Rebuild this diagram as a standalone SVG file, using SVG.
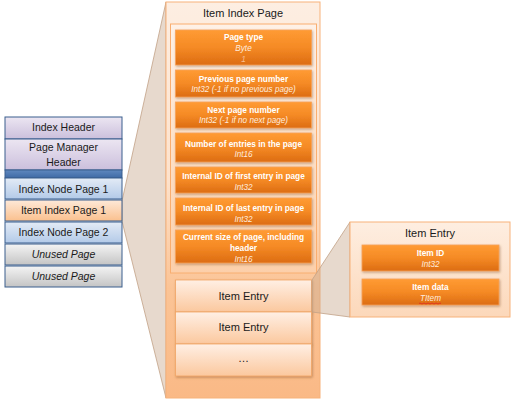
<svg xmlns="http://www.w3.org/2000/svg" width="514" height="405" viewBox="0 0 514 405">
<defs>
<linearGradient id="gPanel" x1="0" y1="0" x2="0" y2="1">
<stop offset="0" stop-color="#FDEEE2"/><stop offset="0.45" stop-color="#FDE2CC"/><stop offset="0.72" stop-color="#FBC496"/><stop offset="1" stop-color="#FAB986"/>
</linearGradient>
<linearGradient id="gSmall" x1="0" y1="0" x2="0" y2="1">
<stop offset="0" stop-color="#FEEEE1"/><stop offset="1" stop-color="#FCD8BA"/>
</linearGradient>
<linearGradient id="gInner" x1="0" y1="0" x2="0" y2="1">
<stop offset="0" stop-color="#FEF1E7"/><stop offset="1" stop-color="#FCCFAA"/>
</linearGradient>
<linearGradient id="gField" x1="0" y1="0" x2="0" y2="1">
<stop offset="0" stop-color="#FF9B33"/><stop offset="0.5" stop-color="#F58A25"/><stop offset="1" stop-color="#DC6C12"/>
</linearGradient>
<linearGradient id="gEntry" x1="0" y1="0" x2="0" y2="1">
<stop offset="0" stop-color="#FFEFE4"/><stop offset="1" stop-color="#FBC89E"/>
</linearGradient>
<linearGradient id="gPurple" x1="0" y1="0" x2="0" y2="1">
<stop offset="0" stop-color="#ECE6F2"/><stop offset="1" stop-color="#CBBFDC"/>
</linearGradient>
<linearGradient id="gBlue" x1="0" y1="0" x2="0" y2="1">
<stop offset="0" stop-color="#E3EBF6"/><stop offset="1" stop-color="#B3CAE8"/>
</linearGradient>
<linearGradient id="gDark" x1="0" y1="0" x2="0" y2="1">
<stop offset="0" stop-color="#5F88BF"/><stop offset="1" stop-color="#3F6AA5"/>
</linearGradient>
<linearGradient id="gPeach" x1="0" y1="0" x2="0" y2="1">
<stop offset="0" stop-color="#FEE9D8"/><stop offset="1" stop-color="#FAC08E"/>
</linearGradient>
<linearGradient id="gGrey" x1="0" y1="0" x2="0" y2="1">
<stop offset="0" stop-color="#F4F4F4"/><stop offset="1" stop-color="#C4C4C4"/>
</linearGradient>
<filter id="sh" x="-10%" y="-20%" width="120%" height="150%">
<feDropShadow dx="0.8" dy="1.2" stdDeviation="0.8" flood-color="#7A4A20" flood-opacity="0.45"/>
</filter>
</defs>
<style>
.stack{stroke:#3A5F8E;stroke-width:1}
.st{font-family:"Liberation Sans",Arial,sans-serif;font-size:10.5px;fill:#1A1A1A;text-anchor:middle}
.it{font-style:italic}
.field{fill:url(#gField);stroke:#F8A25A;stroke-width:0.8;filter:url(#sh)}
.ft{font-family:"Liberation Sans",Arial,sans-serif;font-size:8.3px;font-weight:bold;fill:#FFFFFF;text-anchor:middle}
.fi{font-family:"Liberation Sans",Arial,sans-serif;font-size:8.2px;font-style:italic;fill:#FFEBDD;text-anchor:middle}
.one{fill:#F9BE8E}
.entry{fill:url(#gEntry);stroke:#F2A564;stroke-width:0.8;filter:url(#sh)}
.et{font-family:"Liberation Sans",Arial,sans-serif;font-size:11px;fill:#1A1A1A;text-anchor:middle}
.callout{fill:#C9AB90;fill-opacity:0.45;stroke:#C2A186;stroke-width:0.8}
.panel{stroke:#F7B27A;stroke-width:1}
</style>

<g id="connectors">
<polygon class="callout" points="122,201 166,2 166,398 122,221"/>
</g>

<g id="index-file">
<rect class="stack" x="5" y="117" width="117" height="22" fill="url(#gPurple)"/>
<text class="st" x="63.5" y="131">Index Header</text>
<rect class="stack" x="5" y="139" width="117" height="31" fill="url(#gPurple)"/>
<text class="st" x="63.5" y="151">Page Manager</text>
<text class="st" x="63.5" y="165.5">Header</text>
<rect class="stack" x="5" y="170" width="117" height="8" fill="url(#gDark)"/>
<rect class="stack" x="5" y="178" width="117" height="21" fill="url(#gBlue)"/>
<text class="st" x="63.5" y="193">Index Node Page 1</text>
<rect class="stack" x="5" y="200" width="117" height="21" fill="url(#gPeach)"/>
<text class="st" x="63.5" y="214">Item Index Page 1</text>
<rect class="stack" x="5" y="222" width="117" height="21" fill="url(#gBlue)"/>
<text class="st" x="63.5" y="235.5">Index Node Page 2</text>
<rect class="stack" x="5" y="244" width="117" height="21" fill="url(#gGrey)"/>
<text class="st it" x="63.5" y="258">Unused Page</text>
<rect class="stack" x="5" y="266" width="117" height="21" fill="url(#gGrey)"/>
<text class="st it" x="63.5" y="279.5">Unused Page</text>
</g>

<g id="item-index-page">
<rect class="panel" x="166" y="2" width="154" height="396" fill="url(#gPanel)"/>
<text class="et" x="243" y="17">Item Index Page</text>
<rect x="170.5" y="24" width="146" height="249" fill="url(#gInner)" stroke="#F9AE70" stroke-width="1"/>
</g>

<g id="page-type">
<rect class="field" x="175.5" y="30" width="136" height="35"/>
<text class="ft" x="243.5" y="40">Page type</text>
<text class="fi" x="243.5" y="51">Byte</text>
<text class="fi one" x="243.5" y="62">1</text>
</g>
<g id="previous-page">
<rect class="field" x="175.5" y="70" width="136" height="27"/>
<text class="ft" x="243.5" y="81.5">Previous page number</text>
<text class="fi" x="243.5" y="92">Int32 (-1 if no previous page)</text>
</g>
<g id="next-page">
<rect class="field" x="175.5" y="102" width="136" height="26"/>
<text class="ft" x="243.5" y="112.5">Next page number</text>
<text class="fi" x="243.5" y="123">Int32 (-1 if no next page)</text>
</g>
<g id="num-entries">
<rect class="field" x="175.5" y="133" width="136" height="29"/>
<text class="ft" x="243.5" y="146.5">Number of entries in the page</text>
<text class="fi" x="243.5" y="157">Int16</text>
</g>
<g id="first-entry">
<rect class="field" x="175.5" y="167" width="136" height="26"/>
<text class="ft" x="243.5" y="179">Internal ID of first entry in page</text>
<text class="fi" x="243.5" y="190">Int32</text>
</g>
<g id="last-entry">
<rect class="field" x="175.5" y="198" width="136" height="27"/>
<text class="ft" x="243.5" y="210.5">Internal ID of last entry in page</text>
<text class="fi" x="243.5" y="221.5">Int32</text>
</g>
<g id="current-size">
<rect class="field" x="175.5" y="230" width="136" height="33"/>
<text class="ft" x="243.5" y="240">Current size of page, including</text>
<text class="ft" x="243.5" y="250.5">header</text>
<text class="fi" x="243.5" y="261.5">Int16</text>
</g>

<g id="entry-1">
<rect class="entry" x="175.5" y="280" width="136" height="32"/>
<text class="et" x="243.5" y="300">Item Entry</text>
</g>
<g id="entry-2">
<rect class="entry" x="175.5" y="312" width="136" height="32"/>
<text class="et" x="243.5" y="331">Item Entry</text>
</g>
<g id="entry-more">
<rect class="entry" x="175.5" y="344" width="136" height="32"/>
<text class="et" x="243.5" y="362">…</text>
</g>

<g id="connectors-2">
<polygon class="callout" points="312,280 350,222 350,317 312,312"/>
</g>

<g id="item-entry">
<rect class="panel" x="350" y="222" width="160" height="95" fill="url(#gSmall)"/>
<text class="et" x="430" y="236.5">Item Entry</text>
</g>
<g id="item-id">
<rect class="field" x="362" y="245" width="137" height="26"/>
<text class="ft" x="430.5" y="255.5">Item ID</text>
<text class="fi" x="430.5" y="267">Int32</text>
</g>
<g id="item-data">
<rect class="field" x="362" y="279" width="137" height="26"/>
<text class="ft" x="430.5" y="289.5">Item data</text>
<text class="fi" x="430.5" y="301">TItem</text>
<path d="M419,303.5 q1,-1 2,0 t2,0 t2,0 t2,0 t2,0 t2,0 t2,0 t2,0 t2,0 t2,0 t2,0" fill="none" stroke="#E02020" stroke-width="0.7"/>
</g>
</svg>
